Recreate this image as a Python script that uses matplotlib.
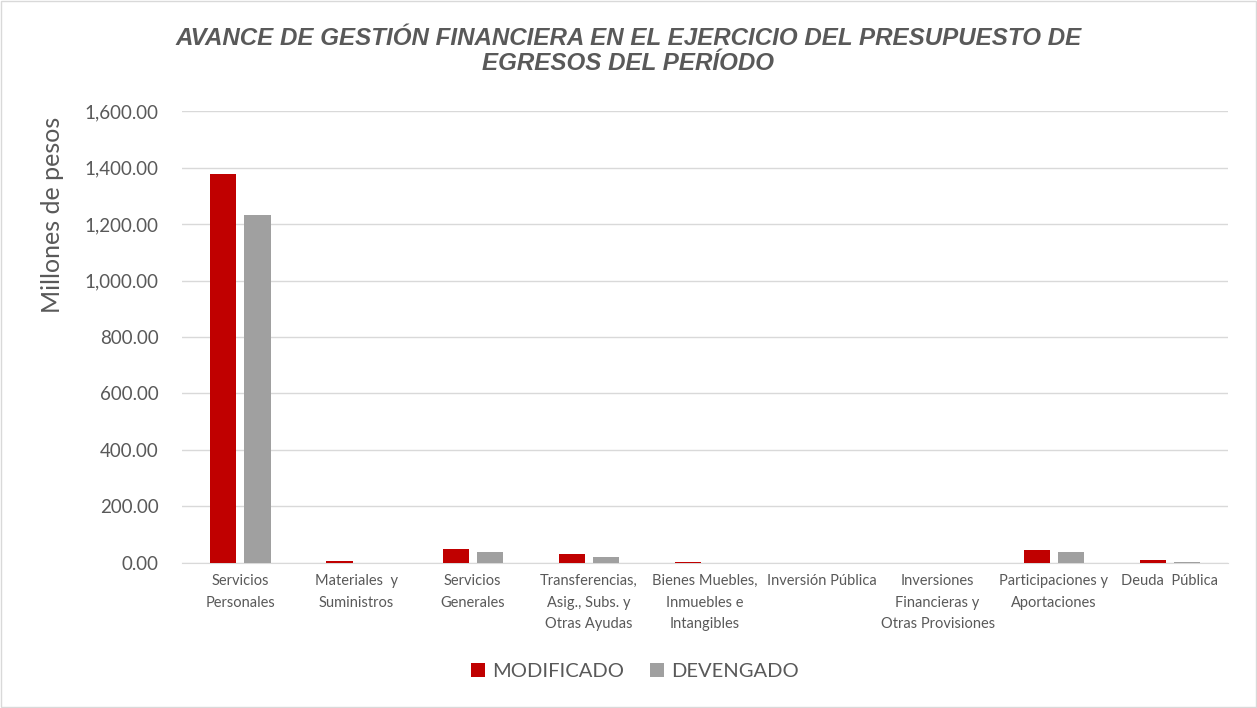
import numpy as np
import matplotlib.pyplot as plt

categorias = ['Servicios\nPersonales', 'Materiales  y\nSuministros', 'Servicios\nGenerales',
              'Transferencias,\nAsig., Subs. y\nOtras Ayudas', 'Bienes Muebles,\nInmuebles e\nIntangibles',
              'Inversión Pública', 'Inversiones\nFinancieras y\nOtras Provisiones',
              'Participaciones y\nAportaciones', 'Deuda  Pública']
modificado = [1377, 6, 49, 32, 3, 0, 0, 45, 10]
devengado = [1233, 0.5, 38, 19, 0.5, 0, 0, 39, 4]

rojo = '#C00000'
gris = '#A0A0A0'
texto = '#595959'

plt.rcParams['font.family'] = ['Lato', 'DejaVu Sans']

fig = plt.figure(figsize=(12.57, 7.08), dpi=100)
ax = fig.add_axes([0.145, 0.205, 0.832, 0.638])

x = np.arange(len(categorias))
w = 0.225
ax.bar(x - 0.1475, modificado, w, color=rojo, label='MODIFICADO', zorder=3)
ax.bar(x + 0.1475, devengado, w, color=gris, label='DEVENGADO', zorder=3)

ax.set_xlim(-0.5, len(categorias) - 0.5)
ax.set_ylim(0, 1600)
ax.set_yticks(np.arange(0, 1601, 200))
ax.set_yticklabels([f'{v:,.2f}' for v in np.arange(0, 1601, 200)], fontsize=13.5, color=texto)
ax.set_xticks(x)
ax.set_xticklabels(categorias, fontsize=10.5, color=texto, linespacing=1.7)
ax.tick_params(axis='both', length=0, pad=8)
ax.tick_params(axis='y', pad=17)
ax.grid(axis='y', color='#D9D9D9', linewidth=1, zorder=0)
for s in ['top', 'right', 'left']:
    ax.spines[s].set_visible(False)
ax.spines['bottom'].set_color('#D9D9D9')
ax.set_ylabel('Millones de pesos', fontsize=18, color=texto)
ax.yaxis.set_label_coords(-0.113, 0.77)

fig.text(0.5, 0.928, 'AVANCE DE GESTIÓN FINANCIERA EN EL EJERCICIO DEL PRESUPUESTO DE\nEGRESOS DEL PERÍODO',
         ha='center', va='center', fontsize=17.4, fontweight='bold', fontstyle='italic',
         family='Liberation Sans', color=texto, linespacing=1.1)

fig.legend(loc='center', bbox_to_anchor=(0.505, 0.051), ncol=2, frameon=False, fontsize=14.5,
           labelcolor=texto, handlelength=0.7, handleheight=0.7, handletextpad=0.35, columnspacing=1.3)

fig.patches.append(plt.Rectangle((0.001, 0.001), 0.998, 0.998, transform=fig.transFigure,
                                 fill=False, edgecolor='#D9D9D9', linewidth=1))

fig.savefig('out.png', dpi=100)
